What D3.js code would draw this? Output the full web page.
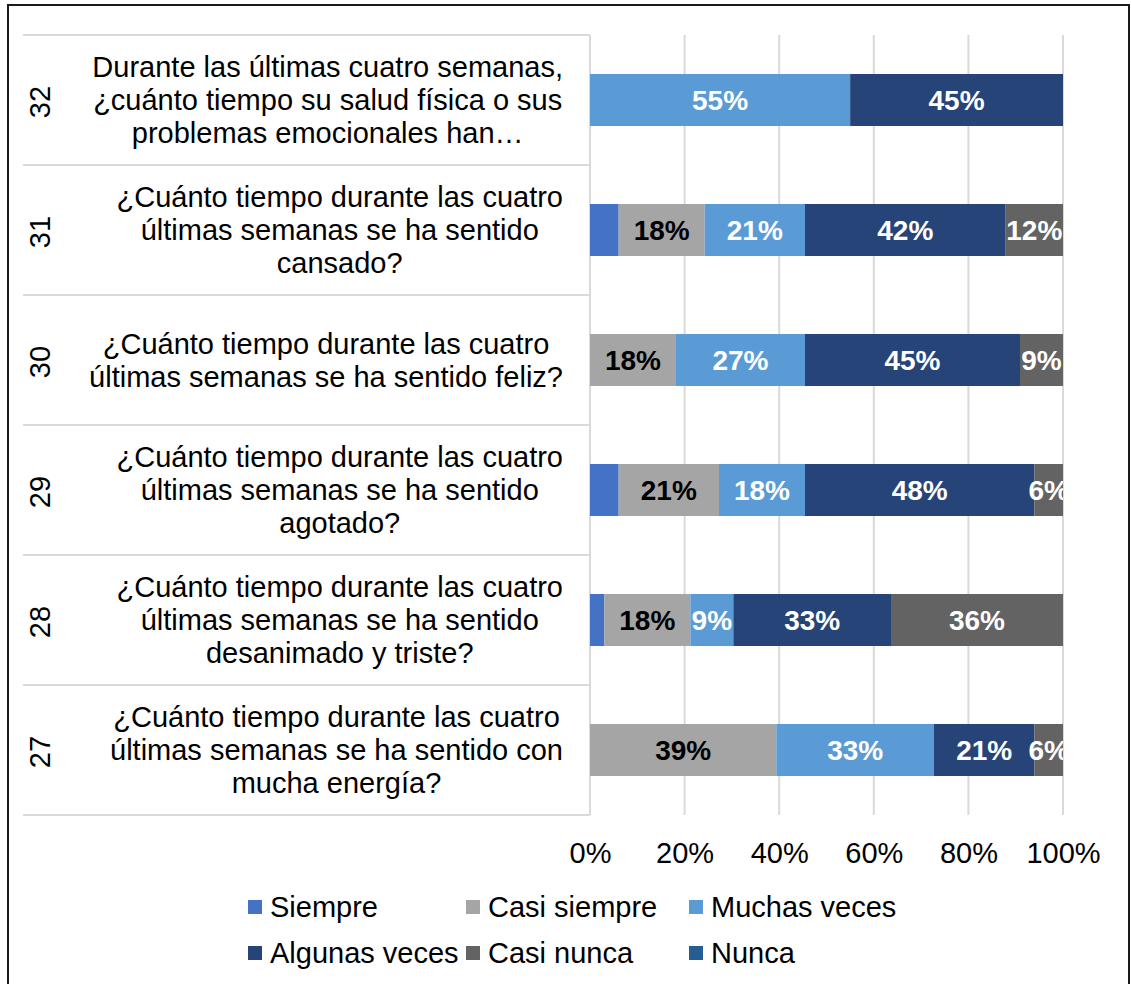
<!DOCTYPE html>
<html>
<head>
<meta charset="utf-8">
<script src="https://cdn.jsdelivr.net/npm/d3@7"></script>
<style>
  body { margin: 0; background: #fff; }
  text { font-family: "Liberation Sans", Arial, sans-serif; }
</style>
</head>
<body>
<svg id="chart"></svg>
<script>
const questions = ["32", "31", "30", "29", "28", "27"];
const questionText = [
  ["Durante las últimas cuatro semanas,", "¿cuánto tiempo su salud física o sus", "problemas emocionales han…"],
  ["¿Cuánto tiempo durante las cuatro", "últimas semanas se ha sentido", "cansado?"],
  ["¿Cuánto tiempo durante las cuatro", "últimas semanas se ha sentido feliz?"],
  ["¿Cuánto tiempo durante las cuatro", "últimas semanas se ha sentido", "agotado?"],
  ["¿Cuánto tiempo durante las cuatro", "últimas semanas se ha sentido", "desanimado y triste?"],
  ["¿Cuánto tiempo durante las cuatro", "últimas semanas se ha sentido con", "mucha energía?"]
];
const seriesNames = ["Siempre", "Casi siempre", "Muchas veces", "Algunas veces", "Casi nunca", "Nunca"];
const siempre = [0, 6, 0, 6, 3, 0];
const casiSiempre = [0, 18, 18, 21, 18, 39];
const muchasVeces = [55, 21, 27, 18, 9, 33];
const algunasVeces = [45, 42, 45, 48, 33, 21];
const casiNunca = [0, 12, 9, 6, 36, 6];
const nunca = [0, 0, 0, 0, 0, 0];
const tickValues = [0, 0.2, 0.4, 0.6, 0.8, 1];

const colors = ["#4472C4", "#A5A5A5", "#5B9BD5", "#264478", "#636363", "#255E91"];
const labelColors = [null, "#000", "#fff", "#fff", "#fff", null];

const rows = questions.map((q, i) => ({
  q,
  "Siempre": siempre[i],
  "Casi siempre": casiSiempre[i],
  "Muchas veces": muchasVeces[i],
  "Algunas veces": algunasVeces[i],
  "Casi nunca": casiNunca[i],
  "Nunca": nunca[i]
}));

const W = 1131, H = 984;
const svg = d3.select("#chart").attr("width", W).attr("height", H);

// outer frame
svg.append("rect")
  .attr("x", 8).attr("y", 5)
  .attr("width", 1121).attr("height", 1000)
  .attr("fill", "none").attr("stroke", "#1a1a1a").attr("stroke-width", 2);

const plot = { left: 590, right: 1063, top: 35, bottom: 815 };

const x = d3.scaleLinear().domain([0, 1]).range([plot.left, plot.right]);
const y = d3.scaleBand().domain(questions).range([plot.top, plot.bottom])
  .paddingInner(0.6).paddingOuter(0.3);

const stacked = d3.stack().keys(seriesNames).offset(d3.stackOffsetExpand)(rows);

// gridlines
svg.append("g").selectAll("line")
  .data(tickValues).enter().append("line")
  .attr("x1", (d) => x(d)).attr("x2", (d) => x(d))
  .attr("y1", plot.top).attr("y2", plot.bottom)
  .attr("stroke", "#d9d9d9").attr("stroke-width", 2);

// category separators
const bounds = questions.map((q) => y(q) - y.step() * y.paddingInner() / 2).concat([plot.bottom]);
svg.append("g").selectAll("line")
  .data(bounds).enter().append("line")
  .attr("x1", 23).attr("x2", plot.left)
  .attr("y1", (d) => d).attr("y2", (d) => d)
  .attr("stroke", "#d9d9d9").attr("stroke-width", 2);

svg.append("line")
  .attr("x1", plot.left).attr("x2", plot.left)
  .attr("y1", plot.top).attr("y2", plot.bottom)
  .attr("stroke", "#d9d9d9").attr("stroke-width", 2);

// bars
const layers = svg.append("g").selectAll("g")
  .data(stacked).enter().append("g")
  .attr("fill", (d, i) => colors[i]);

layers.selectAll("rect")
  .data((d) => d).enter().append("rect")
  .attr("x", (d) => x(d[0]))
  .attr("width", (d) => x(d[1]) - x(d[0]))
  .attr("y", (d) => y(d.data.q))
  .attr("height", y.bandwidth());

// data labels
svg.append("clipPath").attr("id", "plotclip").append("rect")
  .attr("x", plot.left).attr("y", plot.top)
  .attr("width", plot.right - plot.left).attr("height", plot.bottom - plot.top);

const labelGroup = svg.append("g").attr("clip-path", "url(#plotclip)");
stacked.forEach((layer, i) => {
  if (!labelColors[i]) return;
  labelGroup.append("g").selectAll("text")
    .data(layer.filter((d) => d.data[layer.key] > 0)).enter().append("text")
    .attr("x", (d) => (x(d[0]) + x(d[1])) / 2)
    .attr("y", (d) => y(d.data.q) + y.bandwidth() / 2)
    .attr("text-anchor", "middle")
    .attr("dominant-baseline", "central")
    .attr("font-size", 28)
    .attr("font-weight", "bold")
    .attr("fill", labelColors[i])
    .text((d) => d.data[layer.key] + "%");
});

// category labels (two levels)
const catG = svg.append("g");
const textRight = 563;
questions.forEach((q, i) => {
  const cy = y(q) + y.bandwidth() / 2;
  catG.append("text")
    .attr("transform", `translate(40,${cy + 2}) rotate(-90)`)
    .attr("text-anchor", "middle")
    .attr("dominant-baseline", "central")
    .attr("font-size", 29)
    .attr("fill", "#000")
    .text(q);

  const lines = questionText[i];
  const texts = lines.map((line, k) =>
    catG.append("text")
      .attr("y", cy + (k - (lines.length - 1) / 2) * 33)
      .attr("text-anchor", "middle")
      .attr("dominant-baseline", "central")
      .attr("font-size", 29)
      .attr("fill", "#000")
      .text(line)
  );
  const maxW = d3.max(texts, (t) => t.node().getComputedTextLength());
  texts.forEach((t) => t.attr("x", textRight - maxW / 2));
});

// x axis
const xAxis = d3.axisBottom(x)
  .tickValues(tickValues)
  .tickFormat(d3.format(".0%"))
  .tickSize(0)
  .tickPadding(27);

const axisG = svg.append("g")
  .attr("transform", `translate(0,${plot.bottom})`)
  .call(xAxis);
axisG.select(".domain").remove();
axisG.selectAll("text")
  .attr("font-size", 29)
  .attr("font-family", "Liberation Sans, Arial, sans-serif")
  .attr("fill", "#000");

// legend
const legendCols = [248, 466, 689];
const legendRows = [907, 953];
const legend = svg.append("g").selectAll("g")
  .data(seriesNames).enter().append("g")
  .attr("transform", (d, i) => `translate(${legendCols[i % 3]},${legendRows[Math.floor(i / 3)]})`);

legend.append("rect")
  .attr("x", 0).attr("y", -7)
  .attr("width", 14).attr("height", 14)
  .attr("fill", (d, i) => colors[i]);

legend.append("text")
  .attr("x", 22)
  .attr("dominant-baseline", "central")
  .attr("font-size", 29)
  .attr("fill", "#000")
  .text((d) => d);
</script>
</body>
</html>
